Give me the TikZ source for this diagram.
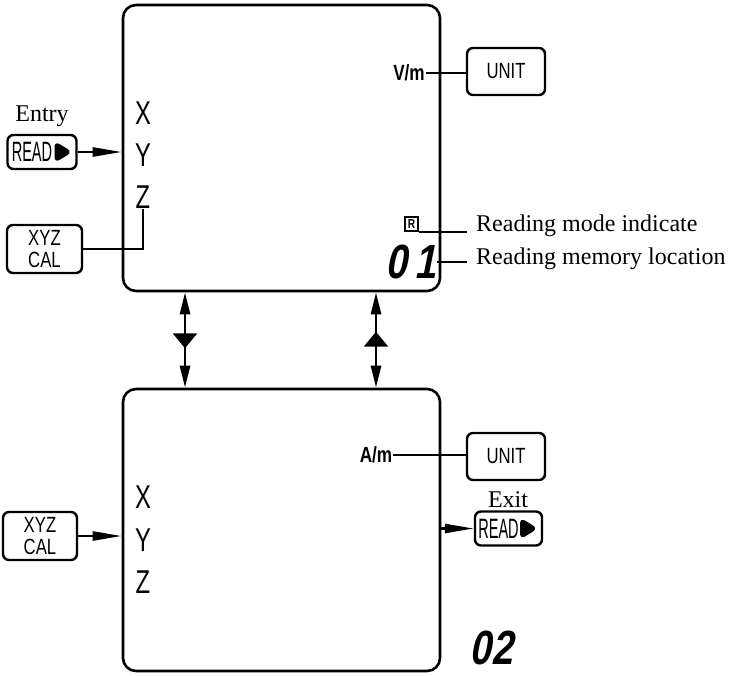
\documentclass[tikz,border=0pt]{standalone}
\usepackage{fontspec}
\setmainfont{Liberation Serif}
\newfontfamily\lcdfont[FakeStretch=0.72]{Liberation Sans}
\newfontfamily\keyfont[FakeStretch=0.76]{Liberation Sans}
\newfontfamily\readfont[FakeStretch=0.52]{Liberation Sans}
\newfontfamily\unitfont[FakeStretch=0.78]{Liberation Sans}
\newfontfamily\digitfont[FakeStretch=0.8,FakeSlant=0.2]{Liberation Sans}
\usetikzlibrary{arrows.meta,positioning,decorations.markings}

\begin{document}
\begin{tikzpicture}[
    x=1pt, y=-1pt,
    screen/.style={rectangle, rounded corners=13pt, draw, line width=2.6pt, inner sep=0pt, minimum width=317pt},
    key/.style={rectangle, rounded corners=6pt, draw, line width=2.4pt, inner sep=0pt, font=\keyfont\fontsize{22}{22}\selectfont, align=center},
    readkey/.style={key, minimum width=69pt, minimum height=34pt, font=\readfont\fontsize{28}{28}\selectfont,
      path picture={\fill ([xshift=-4pt]path picture bounding box.east) -- ++(-18pt,11pt) -- ++(0,-22pt) -- cycle;}},
    lcd/.style={font=\lcdfont\fontsize{33}{33}\selectfont, inner sep=0pt},
    unit/.style={font=\unitfont\bfseries\fontsize{22}{22}\selectfont, inner sep=1pt},
    digits/.style={font=\digitfont\bfseries\fontsize{48}{48}\selectfont, inner sep=0pt},
    note/.style={font=\fontsize{24}{24}\selectfont, inner sep=0pt},
    arr/.style={-{Triangle[length=29pt, width=9pt]}, line width=2.4pt},
    link/.style={line width=2.4pt},
    swap/.style={{Triangle[length=22pt, width=10pt]}-{Triangle[length=22pt, width=10pt]}, line width=2.6pt,
      postaction={decorate}, decoration={markings, mark=at position 56pt with {\arrow{Triangle[length=15pt, width=24pt]}}}}
]
  \useasboundingbox (0,0) rectangle (733,675);

  % upper screen
  \node[screen, minimum height=286pt] (scrA) at (281.5,148) {};
  \node[lcd] (xA) at (143,113) {X};
  \node[lcd] (yA) at (143,155) {Y};
  \node[lcd] (zA) at (143,197) {Z};
  \node[unit] (vm) at (409,73) {V/m};
  \node[draw, line width=1.4pt, inner sep=1pt, minimum width=13pt, minimum height=14pt, font=\unitfont\bfseries\fontsize{13}{13}\selectfont] (rind) at (411.5,224) {R};
  \node[digits] (dA) at (411,262) {0\,1};

  \node[note] (entry) at (42,116) {Entry};
  \node[readkey] (readA) at (42,152) {READ\hspace{20pt}};
  \node[key, minimum width=75pt, minimum height=48pt] (calA) at (44.5,249) {XYZ\\CAL};
  \node[key, minimum width=78pt, minimum height=47pt] (unitA) at (506,71.5) {UNIT};
  \node[note, anchor=west, inner xsep=9pt] (modetxt) at (467,226) {Reading mode indicate};
  \node[note, anchor=west, inner xsep=9pt] (memtxt) at (467,259) {Reading memory location};

  \draw[arr] (readA.east) -- (readA.east -| scrA.west);
  \draw[link] (calA.east) -| (zA.south);
  \draw[link] (vm.east) -- (vm.east -| unitA.west);
  \draw[link] (rind.south east) -- (rind.south east -| modetxt.west);
  \draw[link] (dA.east) -- (dA.east -| modetxt.west);

  % lower screen
  \node[screen, minimum height=282pt] (scrB) at (281.5,530) {};
  \node[lcd] (xB) at (143,497) {X};
  \node[lcd] (yB) at (143,540) {Y};
  \node[lcd] (zB) at (143,582) {Z};
  \node[unit] (am) at (376,455) {A/m};
  \node[digits] (dB) at (491,648) {02};

  \node[key, minimum width=74pt, minimum height=48pt] (calB) at (40,536) {XYZ\\CAL};
  \node[key, minimum width=78pt, minimum height=47pt] (unitB) at (506,456.5) {UNIT};
  \node[note] (exit) at (508,500) {Exit};
  \node[readkey, minimum width=67pt] (readB) at (508.5,528.5) {READ\hspace{20pt}};

  \draw[arr] (calB.east) -- (calB.east -| scrB.west);
  \draw[link] (am.east) -- (am.east -| unitB.west);
  \draw[arr] (readB.west -| scrB.east) -- (readB.west);

  % switching between the two screens
  \coordinate (lx) at (185,0);
  \coordinate (rx) at (376,0);
  \draw[swap] (scrA.south -| lx) -- (scrB.north -| lx);
  \draw[swap] (scrB.north -| rx) -- (scrA.south -| rx);
\end{tikzpicture}
\end{document}
